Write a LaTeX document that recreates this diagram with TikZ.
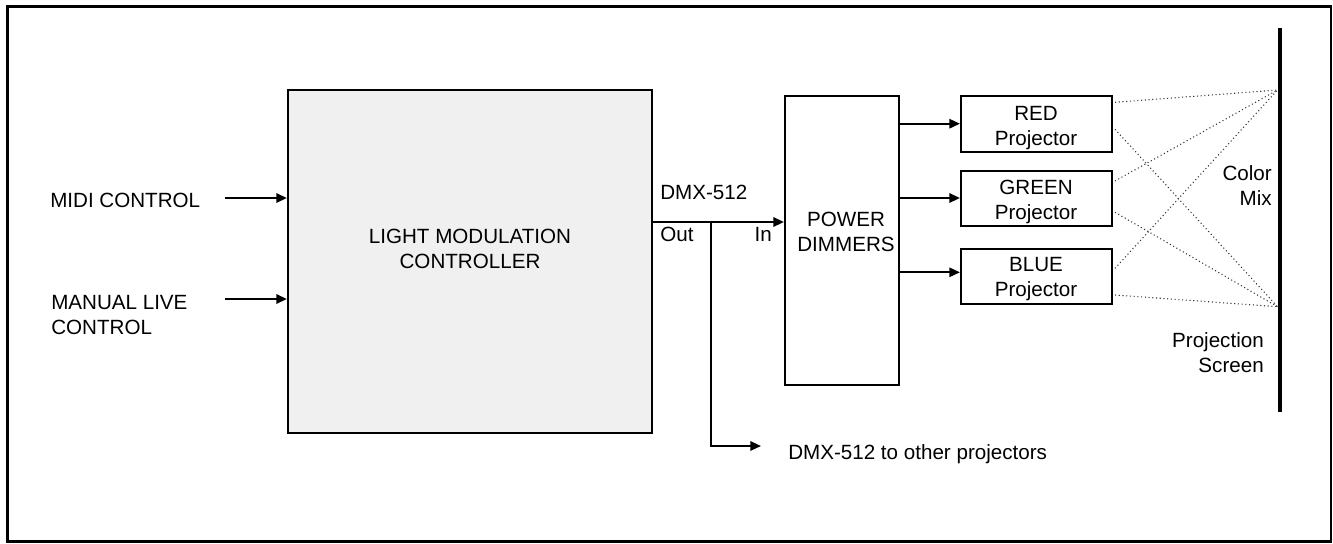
\documentclass[tikz,border=0pt]{standalone}
\usepackage{fontspec}
\setmainfont{Liberation Sans}
\usetikzlibrary{arrows.meta}
\begin{document}
\begin{tikzpicture}[x=0.75pt,y=-0.75pt,
  every node/.style={font=\fontsize{15.45}{18.75}\selectfont, inner sep=0pt},
  box/.style={draw, line width=1.6pt, fill=white},
  lbl/.style={align=center, anchor=north},
  arr/.style={line width=1.6pt, -{Triangle[length=8pt,width=7pt]}},
  ray/.style={dotted, line width=0.8pt, draw=black!80}]
\useasboundingbox (0,0) rectangle (1333,543);
\draw[line width=2pt] (7.5,6.5) rectangle (1331,541.5);
% boxes
\node[box, fill=black!6, minimum width=364*0.75pt, minimum height=343*0.75pt] (ctrl) at (470,261.5) {};
\node[box, minimum width=114*0.75pt, minimum height=289*0.75pt] (pd) at (842,240.5) {};
\node[box, minimum width=151*0.75pt, minimum height=56*0.75pt] (red) at (1036.5,124) {};
\node[box, minimum width=151*0.75pt, minimum height=55*0.75pt] (green) at (1036.5,198.5) {};
\node[box, minimum width=151*0.75pt, minimum height=55*0.75pt] (blue) at (1036.5,276.5) {};
% texts
\node[lbl] (ctrltxt) at (470,229) {LIGHT MODULATION\\CONTROLLER};
\node[lbl] (pdtxt) at (846,211.7) {POWER\\DIMMERS};
\node[lbl] (redtxt) at (1036,106) {RED\\Projector};
\node[lbl] (greentxt) at (1036,180) {GREEN\\Projector};
\node[lbl] (bluetxt) at (1036,257.3) {BLUE\\Projector};
\node[anchor=north west] (midi) at (50,193.3) {MIDI CONTROL};
\node[anchor=north west, align=left] (manual) at (51,295) {MANUAL LIVE\\CONTROL};
\node[anchor=north west] (dmx) at (660,185) {DMX-512};
\node[anchor=north west] (out) at (660,227.3) {Out};
\node[anchor=north east] (in) at (772,227.3) {In};
\node[anchor=north west] (other) at (788,444) {DMX-512 to other projectors};
\node[anchor=north east, align=right] (mix) at (1272,165) {Color\\Mix};
\node[anchor=north east, align=right] (scrtxt) at (1264,332.7) {Projection\\Screen};
% screen
\coordinate (st) at (1280,28);
\coordinate (sb) at (1280,412.3);
\draw[line width=3.6pt] (st) -- (sb);
% inputs
\coordinate (m0) at (225,198);
\coordinate (l0) at (225,299);
\draw[arr] (m0) -- (m0 -| ctrl.west);
\draw[arr] (l0) -- (l0 -| ctrl.west);
% DMX
\coordinate (d0) at (652,222);
\coordinate (br) at (711,222);
\coordinate (o) at (761,446);
\draw[arr] (d0 -| ctrl.east) -- (d0 -| pd.west);
\draw[arr] (br) |- (o);
% dimmers to projectors
\coordinate (r0) at (899,123.7);
\coordinate (g0) at (899,198);
\coordinate (b0) at (899,272.3);
\draw[arr] (r0 -| pd.east) -- (r0 -| red.west);
\draw[arr] (g0 -| pd.east) -- (g0 -| green.west);
\draw[arr] (b0 -| pd.east) -- (b0 -| blue.west);
% rays
\coordinate (p1) at (1277.5,90);
\coordinate (p2) at (1277.5,306.7);
\coordinate (ra) at (1115,102.3);
\coordinate (rb) at (1115,129.3);
\coordinate (ga) at (1115,181);
\coordinate (gb) at (1115,212.3);
\coordinate (ba) at (1115,268.3);
\coordinate (bb) at (1115,295);
\draw[ray] (ra) -- (p1);
\draw[ray] (rb) -- (p2);
\draw[ray] (ga) -- (p1);
\draw[ray] (gb) -- (p2);
\draw[ray] (ba) -- (p1);
\draw[ray] (bb) -- (p2);
\end{tikzpicture}
\end{document}
